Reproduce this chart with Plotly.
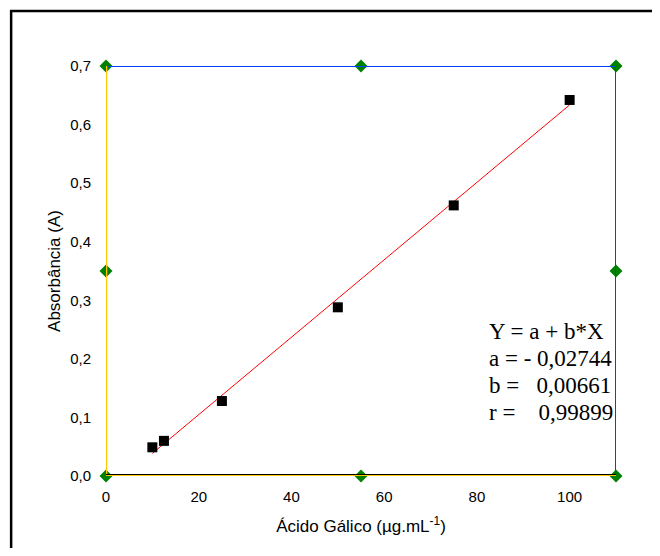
import plotly.graph_objects as go

conc = [10, 12.5, 25, 50, 75, 100]
absorb = [0.049, 0.060, 0.128, 0.288, 0.462, 0.642]
fit_a = -0.02744
fit_b = 0.00661
fit_x = [10, 100]
fit_y = [fit_a + fit_b * x for x in fit_x]
frame_x = [0, 0, 0, 55, 110, 110, 110, 55]
frame_y = [0, 0.35, 0.7, 0.7, 0.7, 0.35, 0, 0]
x_ticks = [0, 20, 40, 60, 80, 100]
y_ticks = [0, 0.1, 0.2, 0.3, 0.4, 0.5, 0.6, 0.7]
eq_lines = ["Y = a + b*X", "a = - 0,02744", "b =   0,00661", "r =    0,99899"]

fig = go.Figure()
fig.add_trace(go.Scatter(x=fit_x, y=fit_y, mode="lines",
                         line=dict(color="red", width=1), showlegend=False))
fig.add_trace(go.Scatter(x=conc, y=absorb, mode="markers",
                         marker=dict(symbol="square", size=10, color="black"),
                         showlegend=False))

shapes = [
    # outer border (top and left edges visible in the frame)
    dict(type="line", xref="paper", yref="paper", x0=-0.188, x1=1.5, y0=1.134, y1=1.134,
         line=dict(color="black", width=2.5), layer="below"),
    dict(type="line", xref="paper", yref="paper", x0=-0.186, x1=-0.186, y0=-0.6, y1=1.136,
         line=dict(color="black", width=2.5), layer="below"),
    # top blue
    dict(type="line", xref="x", yref="y", x0=0, x1=110, y0=0.7, y1=0.7,
         line=dict(color="#0040ff", width=2)),
    # right blue
    dict(type="line", xref="x", yref="y", x0=110, x1=110, y0=0, y1=0.7,
         line=dict(color="#0040ff", width=2)),
    # left yellow + black
    dict(type="line", xref="x", yref="y", x0=0, x1=0, y0=0, y1=0.7,
         line=dict(color="#ffc800", width=2.5)),
    dict(type="line", xref="x", yref="y", xsizemode="pixel", xanchor=0, x0=-1.5, x1=-1.5,
         y0=0, y1=0.7, line=dict(color="black", width=1)),
    # bottom yellow + black
    dict(type="line", xref="x", yref="y", x0=0, x1=110, y0=0, y1=0,
         line=dict(color="#ffc800", width=2.5)),
    dict(type="line", xref="x", yref="y", ysizemode="pixel", yanchor=0, y0=1.5, y1=1.5,
         x0=0, x1=110, line=dict(color="black", width=1)),
]

fig.add_trace(go.Scatter(x=frame_x, y=frame_y, mode="markers",
                         marker=dict(symbol="diamond", size=10, color="#008000"),
                         cliponaxis=False, showlegend=False))

annotations = []
for i, t in enumerate(eq_lines):
    annotations.append(dict(xref="paper", yref="paper", x=(487 - 106) / 510,
                            y=1 - (331 + 27.3 * i - 66) / 410, text=t, showarrow=False,
                            xanchor="left", yanchor="middle",
                            font=dict(family="Liberation Serif, Times New Roman", size=23, color="black")))

fig.update_layout(
    width=644, height=540,
    margin=dict(l=98, r=36, t=58, b=72),
    paper_bgcolor="white", plot_bgcolor="white",
    separators=",.",
    shapes=shapes,
    annotations=annotations,
    font=dict(family="Liberation Sans, Arial", size=15, color="black"),
    xaxis=dict(range=[0, 110], tickvals=x_ticks, showgrid=False, zeroline=False,
               showline=False, ticks="", ticklabelstandoff=10,
               title=dict(text="Ácido Gálico (µg.mL<sup>-1</sup>)", font=dict(size=17), standoff=16)),
    yaxis=dict(range=[0, 0.7], tickvals=y_ticks, tickformat=".1f", showgrid=False,
               zeroline=False, showline=False, ticks="", ticklabelstandoff=14,
               title=dict(text="Absorbância (A)", font=dict(size=17), standoff=5)),
)
fig.write_html("out.html")
